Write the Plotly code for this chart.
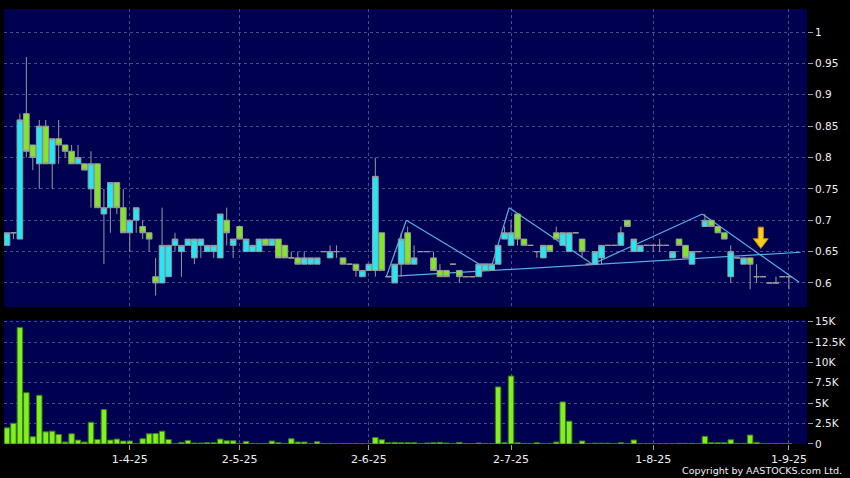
import plotly.graph_objects as go

# ---------------- data ----------------
day_index = list(range(122))

opens = [0.66, 0.68, 0.67, 0.87, 0.82, 0.79, 0.85, 0.79, 0.83, 0.82,
         0.81, 0.79, 0.79, 0.75, 0.79, 0.71, 0.72, 0.76, 0.72, 0.68,
         0.70, 0.69, 0.68, 0.61, 0.60, 0.61, 0.66, 0.65, 0.66, 0.64,
         0.66, 0.65, 0.65, 0.64, 0.70, 0.66, 0.69, 0.65, 0.65, 0.65,
         0.67, 0.66, 0.67, 0.66, 0.64, 0.64, 0.63, 0.63, 0.63, 0.65,
         0.64, 0.65, 0.64, 0.63, 0.63, 0.61, 0.62, 0.62, 0.68, 0.61,
         0.60, 0.63, 0.68, 0.63, 0.65, 0.65, 0.64, 0.62, 0.62, 0.63,
         0.62, 0.61, 0.61, 0.61, 0.62, 0.62, 0.63, 0.67, 0.66, 0.71,
         0.67, 0.66, 0.65, 0.64, 0.66, 0.68, 0.66, 0.65, 0.68, 0.67,
         0.63, 0.63, 0.64, 0.66, 0.66, 0.66, 0.70, 0.65, 0.65, 0.66,
         0.66, 0.66, 0.66, 0.64, 0.67, 0.66, 0.63, 0.65, 0.69, 0.70,
         0.69, 0.68, 0.61, 0.64, 0.63, 0.64, 0.61, 0.61, 0.60, 0.60,
         0.61, 0.61]

highs = [0.68, 0.68, 0.87, 0.96, 0.82, 0.86, 0.86, 0.83, 0.86, 0.82,
         0.82, 0.82, 0.79, 0.81, 0.79, 0.75, 0.76, 0.76, 0.75, 0.70,
         0.72, 0.70, 0.68, 0.64, 0.72, 0.66, 0.68, 0.66, 0.67, 0.67,
         0.67, 0.66, 0.66, 0.71, 0.72, 0.67, 0.69, 0.67, 0.66, 0.67,
         0.67, 0.67, 0.67, 0.66, 0.65, 0.65, 0.65, 0.64, 0.64, 0.65,
         0.66, 0.66, 0.64, 0.63, 0.63, 0.62, 0.63, 0.80, 0.68, 0.61,
         0.63, 0.68, 0.69, 0.66, 0.65, 0.65, 0.65, 0.63, 0.62, 0.63,
         0.62, 0.61, 0.61, 0.63, 0.63, 0.63, 0.66, 0.69, 0.70, 0.71,
         0.67, 0.66, 0.65, 0.66, 0.66, 0.69, 0.68, 0.68, 0.68, 0.67,
         0.63, 0.65, 0.66, 0.66, 0.66, 0.69, 0.70, 0.67, 0.66, 0.66,
         0.66, 0.67, 0.66, 0.65, 0.67, 0.66, 0.65, 0.65, 0.71, 0.70,
         0.69, 0.68, 0.66, 0.64, 0.64, 0.64, 0.63, 0.61, 0.60, 0.61,
         0.61, 0.61]

lows = [0.66, 0.67, 0.67, 0.80, 0.78, 0.75, 0.79, 0.75, 0.79, 0.80,
        0.79, 0.79, 0.78, 0.72, 0.72, 0.63, 0.68, 0.71, 0.68, 0.65,
        0.68, 0.67, 0.65, 0.58, 0.60, 0.61, 0.65, 0.61, 0.66, 0.63,
        0.64, 0.65, 0.64, 0.64, 0.66, 0.64, 0.67, 0.65, 0.65, 0.65,
        0.66, 0.66, 0.64, 0.64, 0.64, 0.63, 0.63, 0.63, 0.63, 0.65,
        0.64, 0.64, 0.63, 0.63, 0.61, 0.61, 0.62, 0.61, 0.62, 0.61,
        0.60, 0.61, 0.63, 0.63, 0.65, 0.65, 0.62, 0.61, 0.61, 0.63,
        0.60, 0.61, 0.61, 0.61, 0.62, 0.62, 0.63, 0.67, 0.66, 0.66,
        0.66, 0.66, 0.64, 0.64, 0.65, 0.67, 0.66, 0.65, 0.68, 0.64,
        0.63, 0.63, 0.63, 0.66, 0.66, 0.66, 0.69, 0.65, 0.65, 0.66,
        0.65, 0.65, 0.66, 0.64, 0.66, 0.64, 0.63, 0.65, 0.69, 0.69,
        0.68, 0.67, 0.60, 0.64, 0.63, 0.59, 0.60, 0.61, 0.60, 0.60,
        0.61, 0.59]

closes = [0.68, 0.68, 0.86, 0.81, 0.80, 0.85, 0.79, 0.83, 0.82, 0.81,
          0.79, 0.80, 0.78, 0.79, 0.72, 0.72, 0.76, 0.72, 0.68, 0.70,
          0.72, 0.68, 0.67, 0.60, 0.66, 0.66, 0.67, 0.66, 0.67, 0.67,
          0.67, 0.66, 0.66, 0.71, 0.68, 0.67, 0.67, 0.67, 0.66, 0.67,
          0.66, 0.67, 0.64, 0.64, 0.64, 0.63, 0.64, 0.64, 0.64, 0.65,
          0.65, 0.65, 0.63, 0.63, 0.62, 0.62, 0.63, 0.77, 0.62, 0.61,
          0.63, 0.67, 0.63, 0.64, 0.65, 0.65, 0.62, 0.61, 0.61, 0.63,
          0.61, 0.61, 0.61, 0.63, 0.63, 0.63, 0.66, 0.68, 0.68, 0.67,
          0.66, 0.66, 0.65, 0.66, 0.65, 0.67, 0.68, 0.68, 0.68, 0.65,
          0.63, 0.65, 0.66, 0.66, 0.66, 0.68, 0.69, 0.67, 0.66, 0.66,
          0.66, 0.66, 0.66, 0.65, 0.66, 0.64, 0.65, 0.65, 0.70, 0.69,
          0.68, 0.67, 0.65, 0.64, 0.64, 0.63, 0.61, 0.61, 0.60, 0.60,
          0.61, 0.61]

volumes = [1980, 2540, 14270, 6290, 890, 5970, 1490, 1570, 1170, 240,
           1250, 480, 240, 2660, 560, 4230, 480, 600, 360, 360,
           30, 650, 1250, 1290, 1570, 560, 30, 200, 440, 120,
           120, 160, 160, 600, 400, 400, 30, 320, 60, 60,
           60, 360, 160, 60, 650, 240, 240, 60, 280, 40,
           60, 40, 60, 60, 60, 60, 30, 800, 520, 160,
           200, 160, 160, 160, 60, 120, 160, 200, 120, 40,
           200, 60, 40, 120, 60, 40, 7000, 160, 8330, 160,
           60, 60, 160, 60, 60, 240, 5160, 2800, 60, 370,
           40, 100, 100, 100, 40, 160, 40, 490, 40, 40,
           40, 60, 40, 40, 80, 80, 80, 40, 935, 160,
           160, 160, 530, 80, 80, 1100, 200, 40, 60, 60,
           60, 60]

x_tick_index = [19, 36, 56, 78, 100, 121]
x_tick_labels = ["1-4-25", "2-5-25", "2-6-25", "2-7-25", "1-8-25", "1-9-25"]

price_ticks = [0.6, 0.65, 0.7, 0.75, 0.8, 0.85, 0.9, 0.95, 1.0]
price_tick_labels = ["0.6", "0.65", "0.7", "0.75", "0.8", "0.85", "0.9", "0.95", "1"]

volume_ticks = [0, 2500, 5000, 7500, 10000, 12500, 15000]
volume_tick_labels = ["0", "2.5K", "5K", "7.5K", "10K", "12.5K", "15K"]

# hand-drawn trend lines (day index, price)
support_x = [58.7, 122.8]
support_y = [0.610, 0.649]
zigzag_x = [58.7, 61.8, 73.1, 75.1, 77.7, 90.6, 107.6, 122.6]
zigzag_y = [0.610, 0.700, 0.630, 0.630, 0.720, 0.630, 0.710, 0.601]

# down-arrow marker (day index, price)
arrow_day = 116.65
arrow_top = 0.689
arrow_neck = 0.6705
arrow_tip = 0.655

# ---------------- style ----------------
NAVY = "#000050"
UP = "#22e8f6"
DOWN = "#84e42c"
EDGE = "#9a9a9a"
VOL = "#80f022"
VOL_EDGE = "#3c7a14"
GRID = "rgba(150,150,200,0.5)"
LINE = "#55aee6"
TXT = "#f0f0f0"
FONT = "DejaVu Sans"

X_RANGE = [-0.46, 123.8]

fig = go.Figure()

fig.add_trace(go.Candlestick(
    x=day_index, open=opens, high=highs, low=lows, close=closes,
    xaxis="x", yaxis="y",
    increasing=dict(fillcolor=UP, line=dict(color=EDGE, width=1)),
    decreasing=dict(fillcolor=DOWN, line=dict(color=EDGE, width=1)),
    whiskerwidth=0, hoverinfo="skip", showlegend=False,
))

fig.add_trace(go.Bar(
    x=day_index, y=volumes, xaxis="x2", yaxis="y2",
    marker=dict(color=VOL, line=dict(color=VOL_EDGE, width=1)),
    hoverinfo="skip", showlegend=False,
))

shapes = []
pts_s = list(zip(support_x, support_y))
for (x0, y0), (x1, y1) in zip(pts_s[:-1], pts_s[1:]):
    shapes.append(dict(type="line", xref="x", yref="y", x0=x0, y0=y0, x1=x1, y1=y1,
                       line=dict(color=LINE, width=1.2), layer="below"))
pts_z = list(zip(zigzag_x, zigzag_y))
for (x0, y0), (x1, y1) in zip(pts_z[:-1], pts_z[1:]):
    shapes.append(dict(type="line", xref="x", yref="y", x0=x0, y0=y0, x1=x1, y1=y1,
                       line=dict(color=LINE, width=1.2), layer="below"))

sw, hw = 0.4, 1.15
path = (f"M {arrow_day - sw},{arrow_top} L {arrow_day + sw},{arrow_top} "
        f"L {arrow_day + sw},{arrow_neck} L {arrow_day + hw},{arrow_neck} "
        f"L {arrow_day},{arrow_tip} L {arrow_day - hw},{arrow_neck} "
        f"L {arrow_day - sw},{arrow_neck} Z")
shapes.append(dict(type="path", xref="x", yref="y", path=path,
                   fillcolor="#f8cc22", line=dict(color="#c88a00", width=1), layer="above"))

grid = dict(showgrid=True, gridcolor=GRID, gridwidth=1, griddash="3px,3px", zeroline=False, showline=False)

fig.update_layout(
    width=850, height=478,
    margin=dict(l=4, r=42, t=5, b=34),
    paper_bgcolor="black", plot_bgcolor=NAVY,
    boxgap=0.12, boxgroupgap=0, bargap=0.15,
    showlegend=False,
    shapes=shapes,
    xaxis=dict(domain=[0, 1], anchor="y", range=X_RANGE, tickvals=x_tick_index,
               showticklabels=False, ticks="", rangeslider=dict(visible=False), **grid),
    xaxis2=dict(domain=[0, 1], anchor="y2", range=X_RANGE, matches="x",
                tickvals=x_tick_index, ticktext=x_tick_labels,
                ticks="outside", ticklen=5, tickcolor="#a0a0a0",
                tickfont=dict(family=FONT, size=11, color=TXT),
                rangeslider=dict(visible=False), **grid),
    yaxis=dict(domain=[0.31435, 1], anchor="x", side="right", range=[0.5613, 1.0368],
               tickvals=price_ticks, ticktext=price_tick_labels,
               ticks="outside", ticklen=5, tickcolor="#a0a0a0",
               tickfont=dict(family=FONT, size=10.5, color=TXT), **grid),
    yaxis2=dict(domain=[0, 0.28474], anchor="x2", side="right", range=[0, 15180],
                tickvals=volume_ticks, ticktext=volume_tick_labels,
                ticks="outside", ticklen=5, tickcolor="#a0a0a0",
                tickfont=dict(family=FONT, size=10.5, color=TXT), **grid),
    annotations=[dict(text="Copyright by AASTOCKS.com Ltd.", xref="paper", yref="paper",
                      x=(845 - 4) / 804, y=(444 - 470.5) / 439, xanchor="right", yanchor="middle",
                      showarrow=False, font=dict(family=FONT, size=9.5, color=TXT))],
)

fig.write_html("out.html",
               config={"displayModeBar": False, "staticPlot": True},
               post_script="document.body.style.margin='0';document.body.style.overflow='hidden';")
